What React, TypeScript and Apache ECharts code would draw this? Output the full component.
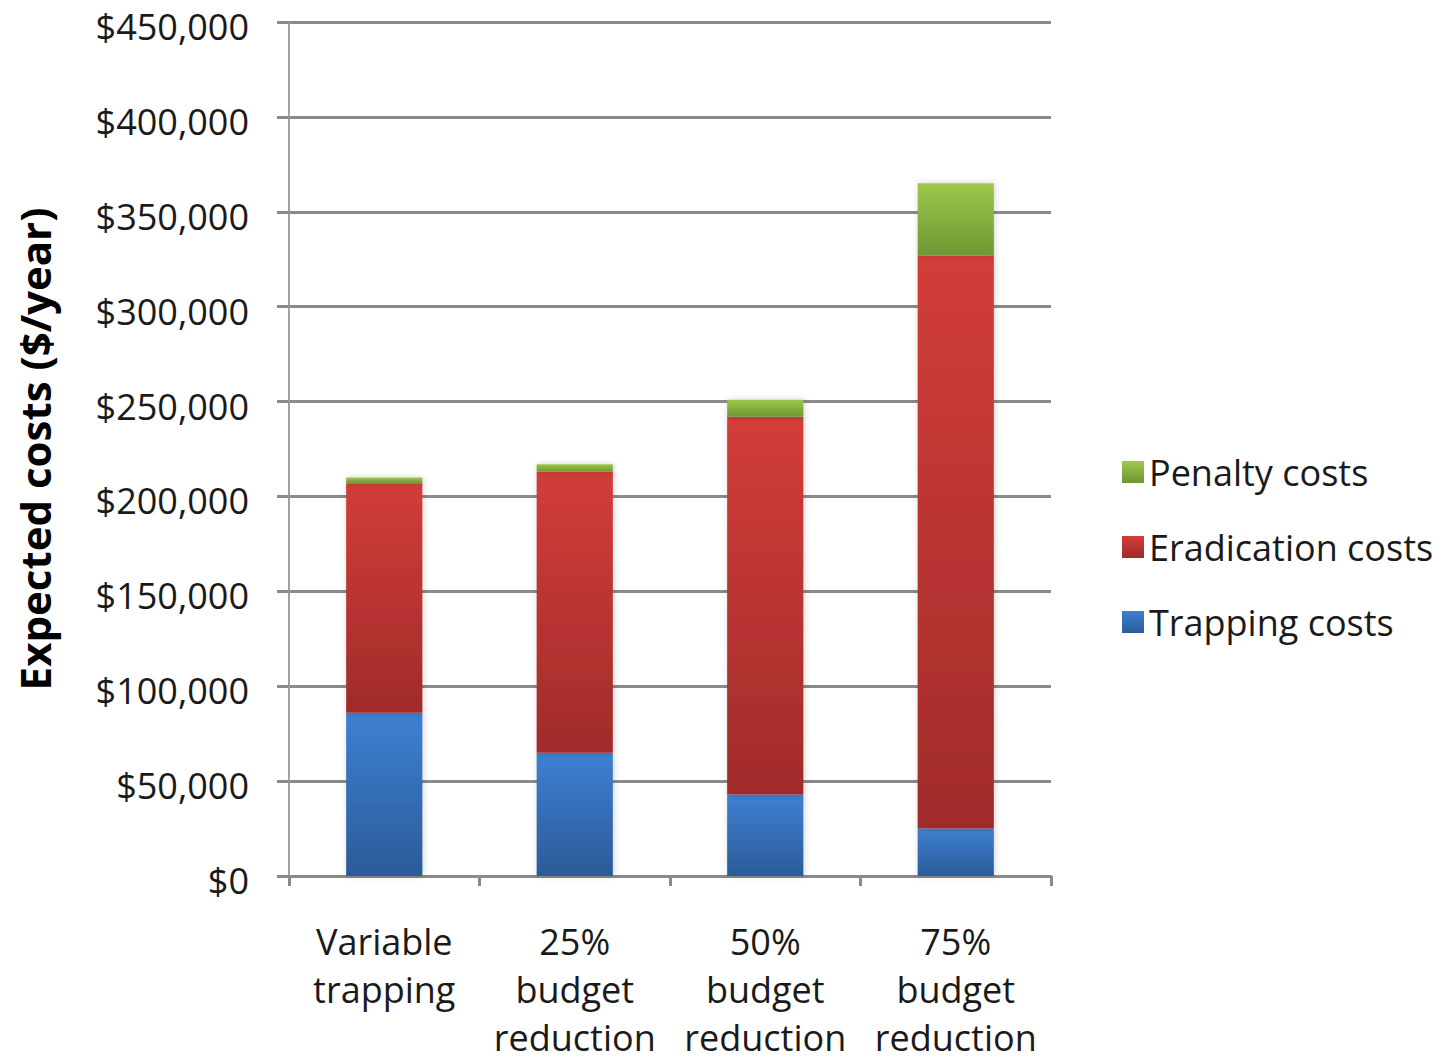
import React, { useEffect, useRef } from "react";
import * as echarts from "echarts";

const categories = [
  "Variable\ntrapping",
  "25%\nbudget\nreduction",
  "50%\nbudget\nreduction",
  "75%\nbudget\nreduction",
];
const trappingCosts = [86000, 65000, 43000, 25000];
const eradicationCosts = [121000, 148000, 199000, 302000];
const penaltyCosts = [3000, 4000, 9000, 38000];
const yTicks = { min: 0, max: 450000, interval: 50000 };

const FONT = "'Open Sans', 'Liberation Sans', sans-serif";

const grad = (top: string, bottom: string) =>
  new echarts.graphic.LinearGradient(0, 0, 0, 1, [
    { offset: 0, color: top },
    { offset: 1, color: bottom },
  ]);

export default function App() {
  const ref = useRef<HTMLDivElement>(null);

  useEffect(() => {
    if (!ref.current) return;
    const chart = echarts.init(ref.current, null, { renderer: "svg" });
    const barShadow = {
      shadowBlur: 6,
      shadowColor: "rgba(0,0,0,0.18)",
      shadowOffsetX: 1,
    };
    chart.setOption({
      animation: false,
      backgroundColor: "#ffffff",
      grid: { left: 289, right: 396, top: 22, bottom: 185, outerBoundsMode: "none" },
      legend: {
        orient: "vertical",
        left: 1117,
        top: 449,
        itemGap: 39,
        itemWidth: 22,
        itemHeight: 22,
        icon: "rect",
        data: ["Penalty costs", "Eradication costs", "Trapping costs"],
        textStyle: { fontFamily: FONT, fontSize: 36, color: "#1a1a1a", padding: [0, 0, 0, 0] },
      },
      xAxis: {
        type: "category",
        data: categories,
        axisLine: { lineStyle: { color: "#8a8a8a", width: 3 } },
        axisTick: { show: true, interval: 0, length: 10, lineStyle: { color: "#8a8a8a", width: 3 } },
        axisLabel: {
          interval: 0,
          fontFamily: FONT,
          fontSize: 36,
          color: "#1a1a1a",
          lineHeight: 48,
          margin: 41,
          verticalAlign: "top",
        },
      },
      yAxis: {
        type: "value",
        min: yTicks.min,
        max: yTicks.max,
        interval: yTicks.interval,
        name: "Expected costs ($/year)",
        nameLocation: "middle",
        nameGap: 234,
        nameRotate: 90,
        nameTextStyle: { fontFamily: FONT, fontSize: 42, fontWeight: "bold", color: "#000" },
        axisLine: { show: true, lineStyle: { color: "#a0a0a0", width: 2 } },
        axisTick: { show: true, length: 12, lineStyle: { color: "#8a8a8a", width: 3 } },
        splitLine: { lineStyle: { color: "#8a8a8a", width: 3 } },
        axisLabel: {
          fontFamily: FONT,
          fontSize: 36,
          lineHeight: 9,
          verticalAlign: "top",
          color: "#1a1a1a",
          margin: 40,
          formatter: (v: number) => "$" + v.toLocaleString("en-US"),
        },
      },
      series: [
        {
          name: "Trapping costs",
          type: "bar",
          stack: "total",
          barWidth: "40%",
          data: trappingCosts,
          itemStyle: { color: grad("#3e80d2", "#2b5b98"), ...barShadow },
        },
        {
          name: "Eradication costs",
          type: "bar",
          stack: "total",
          data: eradicationCosts,
          itemStyle: { color: grad("#d23d39", "#a02b2a"), ...barShadow },
        },
        {
          name: "Penalty costs",
          type: "bar",
          stack: "total",
          data: penaltyCosts,
          itemStyle: { color: grad("#9ec74a", "#6e9734"), ...barShadow },
        },
      ],
    });
    return () => chart.dispose();
  }, []);

  return (
    <div
      ref={ref}
      style={{ position: "fixed", left: 0, top: 0, width: 1447, height: 1061, background: "#fff" }}
    />
  );
}
